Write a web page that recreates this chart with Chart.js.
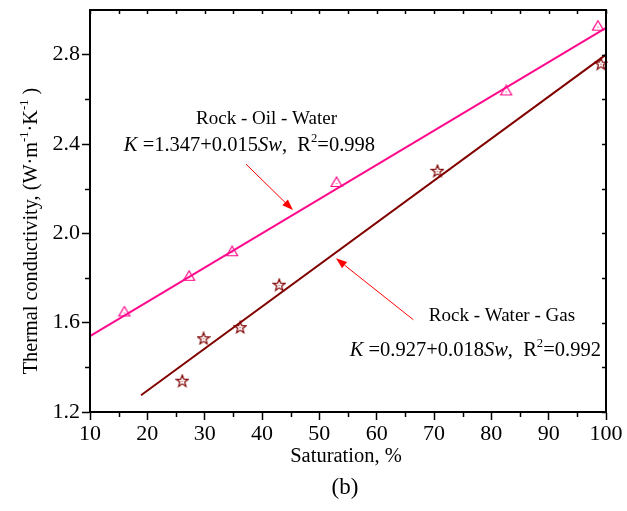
<!DOCTYPE html>
<html>
<head>
<meta charset="utf-8">
<script src="https://cdn.jsdelivr.net/npm/chart.js@4.4.1/dist/chart.umd.min.js"></script>
<style>
  html, body { margin: 0; padding: 0; background: #fff; }
  canvas { display: block; }
</style>
</head>
<body>
<canvas id="graph" width="627" height="511"></canvas>
<script>
// DATA
const satOilWater = [16.0, 27.3, 34.8, 53.0, 82.6, 98.6];
const kOilWater   = [1.65, 1.81, 1.92, 2.23, 2.64, 2.93];
const satWaterGas = [26.1, 29.8, 36.2, 43.0, 70.6, 99.1];
const kWaterGas   = [1.34, 1.53, 1.58, 1.77, 2.28, 2.76];

// fitted lines as drawn (end points)
const fitOilWaterX = [10, 100];
const fitOilWaterY = [1.54, 2.92];
const fitWaterGasX = [18.9, 100];
const fitWaterGasY = [1.275, 2.80];

// ticks
const xMajor = [10, 20, 30, 40, 50, 60, 70, 80, 90, 100];
const xMinor = [15, 25, 35, 45, 55, 65, 75, 85, 95];
const yMajor = [1.2, 1.6, 2.0, 2.4, 2.8];
const yMinor = [1.4, 1.8, 2.2, 2.6];

const PINK = '#ff0a8c';
const BROWN = '#800000';
const FONT = '"Liberation Serif", "Times New Roman", serif';

// markers
function triangleMarker() {
  const c = document.createElement('canvas');
  c.width = 14; c.height = 12;
  const g = c.getContext('2d');
  g.strokeStyle = PINK;
  g.lineWidth = 1.2;
  g.beginPath();
  g.moveTo(7, 1); g.lineTo(12.5, 10.5); g.lineTo(1.5, 10.5); g.closePath();
  g.stroke();
  g.fillStyle = PINK;
  g.fillRect(6.5, 7, 1, 1);
  return c;
}

function starMarker() {
  const c = document.createElement('canvas');
  c.width = 14; c.height = 14;
  const g = c.getContext('2d');
  g.strokeStyle = BROWN;
  g.lineWidth = 1.2;
  g.beginPath();
  for (let i = 0; i < 10; i++) {
    const r = i % 2 === 0 ? 6.2 : 2.6;
    const a = -Math.PI / 2 + i * Math.PI / 5;
    const px = 7 + r * Math.cos(a), py = 7.5 + r * Math.sin(a);
    if (i === 0) g.moveTo(px, py); else g.lineTo(px, py);
  }
  g.closePath();
  g.stroke();
  g.fillStyle = BROWN;
  g.fillRect(6.5, 7, 1, 1);
  return c;
}

// rich text: segments {t, it, sup}
function richWidth(ctx, segs, size) {
  let w = 0;
  segs.forEach(s => {
    const sz = s.sup ? size * 0.62 : size;
    ctx.font = (s.it ? 'italic ' : '') + sz + 'px ' + FONT;
    w += ctx.measureText(s.t).width;
  });
  return w;
}

function drawRich(ctx, segs, x, y, size) {
  segs.forEach(s => {
    const sz = s.sup ? size * 0.62 : size;
    ctx.font = (s.it ? 'italic ' : '') + sz + 'px ' + FONT;
    ctx.fillText(s.t, x, s.sup ? y - size * 0.42 : y);
    x += ctx.measureText(s.t).width;
  });
}

// annotations (anchor in data units, left / baseline)
const notes = [
  { x: 28.5, y: 2.488, size: 19, segs: [{ t: 'Rock - Oil - Water' }] },
  { x: 15.9, y: 2.369, size: 20.5, segs: [{ t: 'K', it: true }, { t: ' =1.347+0.015' }, { t: 'Sw', it: true }, { t: ',  R' }, { t: '2', sup: true }, { t: '=0.998' }] },
  { x: 69.1, y: 1.608, size: 19, segs: [{ t: 'Rock - Water - Gas' }] },
  { x: 55.3, y: 1.452, size: 20.5, segs: [{ t: 'K', it: true }, { t: ' =0.927+0.018' }, { t: 'Sw', it: true }, { t: ',  R' }, { t: '2', sup: true }, { t: '=0.992' }] }
];

const arrows = [
  { from: [37.2, 2.31], to: [45.4, 2.104] },
  { from: [66.4, 1.613], to: [52.9, 1.888] }
];

const decorations = {
  id: 'decorations',
  afterDraw(chart) {
    const ctx = chart.ctx;
    const x = chart.scales.x, y = chart.scales.y;
    const a = chart.chartArea;
    ctx.save();

    // frame
    ctx.strokeStyle = '#000';
    ctx.lineWidth = 2;
    ctx.strokeRect(a.left, a.top, a.right - a.left, a.bottom - a.top);

    // minor ticks outside
    ctx.lineWidth = 1.5;
    ctx.beginPath();
    xMinor.forEach(v => {
      const px = Math.round(x.getPixelForValue(v)) + 0.5;
      ctx.moveTo(px, a.bottom); ctx.lineTo(px, a.bottom + 5);
    });
    yMinor.forEach(v => {
      const py = Math.round(y.getPixelForValue(v)) + 0.5;
      ctx.moveTo(a.left, py); ctx.lineTo(a.left - 5, py);
    });
    // top and right ticks, inside
    xMajor.concat(xMinor).forEach(v => {
      const px = Math.round(x.getPixelForValue(v)) + 0.5;
      ctx.moveTo(px, a.top); ctx.lineTo(px, a.top + 4);
    });
    yMajor.concat(yMinor).forEach(v => {
      const py = Math.round(y.getPixelForValue(v)) + 0.5;
      ctx.moveTo(a.right, py); ctx.lineTo(a.right - 4, py);
    });
    ctx.stroke();

    // arrows
    ctx.strokeStyle = '#ff0000';
    ctx.fillStyle = '#ff0000';
    ctx.lineWidth = 1;
    arrows.forEach(ar => {
      const x0 = x.getPixelForValue(ar.from[0]), y0 = y.getPixelForValue(ar.from[1]);
      const x1 = x.getPixelForValue(ar.to[0]), y1 = y.getPixelForValue(ar.to[1]);
      const ang = Math.atan2(y1 - y0, x1 - x0);
      const len = 11, hw = 4;
      const bx = x1 - len * Math.cos(ang), by = y1 - len * Math.sin(ang);
      ctx.beginPath();
      ctx.moveTo(x0, y0); ctx.lineTo(bx, by);
      ctx.stroke();
      ctx.beginPath();
      ctx.moveTo(x1, y1);
      ctx.lineTo(bx + hw * Math.sin(ang), by - hw * Math.cos(ang));
      ctx.lineTo(bx - hw * Math.sin(ang), by + hw * Math.cos(ang));
      ctx.closePath();
      ctx.fill();
    });

    // annotation text
    ctx.fillStyle = '#000';
    ctx.textAlign = 'left';
    ctx.textBaseline = 'alphabetic';
    notes.forEach(n => {
      drawRich(ctx, n.segs, x.getPixelForValue(n.x), y.getPixelForValue(n.y), n.size);
    });

    // axis titles
    ctx.textAlign = 'center';
    ctx.font = '20.5px ' + FONT;
    ctx.fillText('Saturation, %', 346, 462);
    ctx.font = '23px ' + FONT;
    ctx.fillText('(b)', 345, 494);

    const ySegs = [{ t: 'Thermal conductivity, (W\u00b7m' }, { t: '-1', sup: true }, { t: '\u00b7K' }, { t: '-1', sup: true }, { t: ' )' }];
    ctx.textAlign = 'left';
    ctx.translate(37, 231);
    ctx.rotate(-Math.PI / 2);
    const w = richWidth(ctx, ySegs, 20.3);
    drawRich(ctx, ySegs, -w / 2, 0, 20.3);

    ctx.restore();
  }
};

const graph = document.getElementById('graph');

const tickFont = { family: FONT, size: 22 };

let myChart = new Chart(graph, {
  type: 'scatter',
  data: {
    datasets: [
      {
        type: 'line',
        data: fitOilWaterX.map((v, i) => ({ x: v, y: fitOilWaterY[i] })),
        borderColor: PINK,
        borderWidth: 2,
        pointRadius: 0,
        fill: false
      },
      {
        type: 'line',
        data: fitWaterGasX.map((v, i) => ({ x: v, y: fitWaterGasY[i] })),
        borderColor: BROWN,
        borderWidth: 2,
        pointRadius: 0,
        fill: false
      },
      {
        data: satOilWater.map((v, i) => ({ x: v, y: kOilWater[i] })),
        pointStyle: triangleMarker(),
        pointRadius: 6
      },
      {
        data: satWaterGas.map((v, i) => ({ x: v, y: kWaterGas[i] })),
        pointStyle: starMarker(),
        pointRadius: 6
      }
    ]
  },
  options: {
    responsive: false,
    animation: false,
    clip: false,
    plugins: { legend: { display: false }, tooltip: { enabled: false } },
    layout: { padding: { left: 0, right: 21, top: 10, bottom: 0 } },
    scales: {
      x: {
        type: 'linear',
        min: 10,
        max: 100,
        afterBuildTicks: s => { s.ticks = xMajor.map(v => ({ value: v })); },
        afterFit: s => { s.height = 99; s.paddingLeft = 0; s.paddingRight = 0; },
        grid: { drawOnChartArea: false, drawTicks: true, tickLength: 8, tickColor: '#000', tickWidth: 1.5 },
        border: { color: '#000', width: 2 },
        ticks: { font: tickFont, color: '#000', padding: 1, maxRotation: 0, callback: v => String(v) }
      },
      y: {
        type: 'linear',
        min: 1.2,
        max: 3.0,
        afterBuildTicks: s => { s.ticks = yMajor.map(v => ({ value: v })); },
        afterFit: s => { s.width = 90; s.paddingTop = 0; s.paddingBottom = 0; },
        grid: { drawOnChartArea: false, drawTicks: true, tickLength: 8, tickColor: '#000', tickWidth: 1.5 },
        border: { color: '#000', width: 2 },
        ticks: { font: tickFont, color: '#000', padding: 2, callback: v => v.toFixed(1) }
      }
    }
  },
  plugins: [decorations]
});
</script>
</body>
</html>
